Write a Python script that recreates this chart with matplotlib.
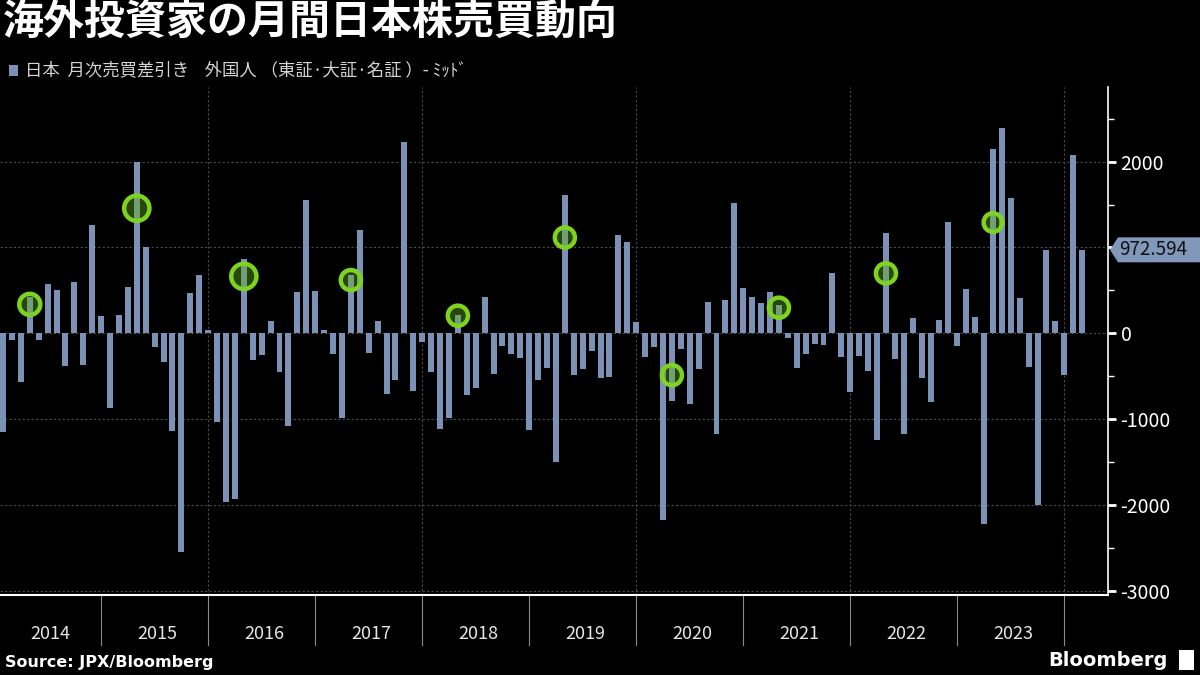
import numpy as np
import matplotlib
matplotlib.use('Agg')
from matplotlib import pyplot as plt
from matplotlib.patches import Polygon, Rectangle
from matplotlib import ticker

bg = '#000000'
bar_color = '#7b92b6'
lime = '#7ed321'
grid_color = '#4a4a4a'

# monthly net purchases by foreign investors (Jan 2014 - Feb 2024)
v2014 = [-1151, -74, -562, 420, -74, 574, 504, -376, 597, -364, 1260, 202]
v2015 = [-876, 213, 539, 1996, 1000, -155, -329, -1143, -2550, 469, 678, 39]
v2016 = [-1039, -1969, -1934, 864, -306, -248, 147, -457, -1085, 481, 1550, 492]
v2017 = [39, -236, -988, 680, 1202, -225, 143, -702, -550, 2225, -667, -97]
v2018 = [-457, -1120, -984, 213, -725, -643, 422, -469, -143, -236, -283, -1132]
v2019 = [-550, -399, -1504, 1609, -481, -411, -202, -516, -504, 1143, 1062, 132]
v2020 = [-271, -155, -2178, -795, -178, -829, -422, 364, -1178, 388, 1516, 527]
v2021 = [422, 353, 481, 330, -50, -399, -236, -120, -132, 702, -271, -690]
v2022 = [-260, -434, -1248, 1167, -295, -1178, 178, -516, -806, 159, 1295, -143]
v2023 = [516, 190, -2225, 2143, 2388, 1574, 411, -388, -2004, 969, 143, -481]
v2024 = [2074, 972.594]

years = ['2014', '2015', '2016', '2017', '2018', '2019', '2020', '2021', '2022', '2023']

# April highlight circles (value of circle centre, marker size)
circle_vals = [337, 1457, 663, 620, 205, 1116, -488, 298, 698, 1291]
circle_sizes = [230, 330, 330, 210, 210, 210, 210, 210, 210, 180]

values = np.array(v2014 + v2015 + v2016 + v2017 + v2018 + v2019 + v2020 +
                  v2021 + v2022 + v2023 + v2024, dtype=float)
x = np.arange(len(values))

plt.rcParams['font.family'] = ['Noto Sans CJK JP', 'DejaVu Sans']

fig = plt.figure(figsize=(12, 6.75), dpi=100, facecolor=bg)
ax = fig.add_axes([0.0, (675 - 595) / 675, 1108 / 1200, (595 - 87) / 675])
ax.set_facecolor(bg)

ax.bar(x, values, width=0.67, color=bar_color, zorder=2)

# circles on April bars
april_idx = [3 + 12 * k for k in range(len(circle_vals))]
ax.scatter(april_idx, circle_vals, s=circle_sizes, facecolor=(0.40, 0.70, 0.10, 0.40),
           edgecolor=lime, linewidth=3.2, zorder=3)

ax.set_xlim(-0.34, 123.9)
ax.set_ylim(-3050, 2870)

# grid
for yv in [-3000, -2000, -1000, 0, 1000, 2000]:
    ax.axhline(yv, color=grid_color, lw=0.8, ls=(0, (2, 2)), zorder=1)
for xv in [23, 47, 71, 95, 119]:
    ax.axvline(xv, color=grid_color, lw=0.8, ls=(0, (2, 2)), zorder=1)

# spines
for side in ['left', 'top']:
    ax.spines[side].set_visible(False)
ax.spines['bottom'].set_color('white')
ax.spines['bottom'].set_linewidth(1.5)
ax.spines['right'].set_color('white')
ax.spines['right'].set_linewidth(1.2)

# y axis on the right
ax.yaxis.tick_right()
ax.set_yticks([-3000, -2000, -1000, 0, 1000, 2000])
ax.set_yticklabels(['-3000', '-2000', '-1000', '0', '', '2000'])
ax.yaxis.set_minor_locator(ticker.MultipleLocator(500))
ax.tick_params(axis='y', which='major', colors='white', length=6, width=2, pad=3, labelsize=14)
ax.tick_params(axis='y', which='minor', colors='white', length=4, width=1)
ax.tick_params(axis='x', which='both', bottom=False, labelbottom=False)

# year labels and dividers under the axis
trans = matplotlib.transforms.blended_transform_factory(ax.transData, ax.transAxes)
for k in range(len(years)):
    b = 11 + 12 * k
    ax.plot([b, b], [0, -0.098], transform=trans, color='#8a8a8a', lw=0.8, clip_on=False)
    ax.text(5.25 + 12 * k, -0.077, years[k], transform=trans, ha='center', va='center',
            color='#e6e6e6', fontsize=13)

# last value tag
fig.canvas.draw()
ydisp = ax.transData.transform((0, values[-1]))[1]
yf = ydisp / 675.0
h = 12.5 / 675.0
x0 = 1110 / 1200.0
x1 = 1118 / 1200.0
tag = Polygon([(x0, yf), (x1, yf + h), (1.0, yf + h), (1.0, yf - h), (x1, yf - h)],
              closed=True, transform=fig.transFigure, facecolor='#8198ba', edgecolor='none', zorder=5)
fig.patches.append(tag)
fig.text(1119 / 1200.0, yf, '%.3f' % values[-1], ha='left', va='center', color='#111111',
         fontsize=13.5, zorder=6)

# title and legend line
fig.text(0.002, 0.998, '海外投資家の月間日本株売買動向', ha='left', va='top', color='white',
         fontsize=29.5, fontweight='bold')
fig.patches.append(Rectangle((9 / 1200, (675 - 76) / 675), 9 / 1200, 11 / 675,
                             transform=fig.transFigure, facecolor=bar_color, edgecolor='none'))
fig.text(25 / 1200, (675 - 70) / 675, '日本  月次売買差引き    外国人 （東証·大証·名証 ）- ﾐｯﾄﾞ',
         ha='left', va='center', color='#d4d4d4', fontsize=12.5)

# footer
fig.text(5 / 1200, (675 - 662) / 675, 'Source: JPX/Bloomberg', ha='left', va='center',
         color='white', fontsize=11.5, fontweight='bold', family='DejaVu Sans')
fig.text(1168 / 1200, (675 - 660) / 675, 'Bloomberg', ha='right', va='center',
         color='white', fontsize=14, fontweight='bold', family='DejaVu Sans')
fig.patches.append(Rectangle((1179 / 1200, (675 - 670) / 675), 15 / 1200, 20 / 675,
                             transform=fig.transFigure, facecolor='white', edgecolor='none'))

plt.savefig('out.png', facecolor=bg)
